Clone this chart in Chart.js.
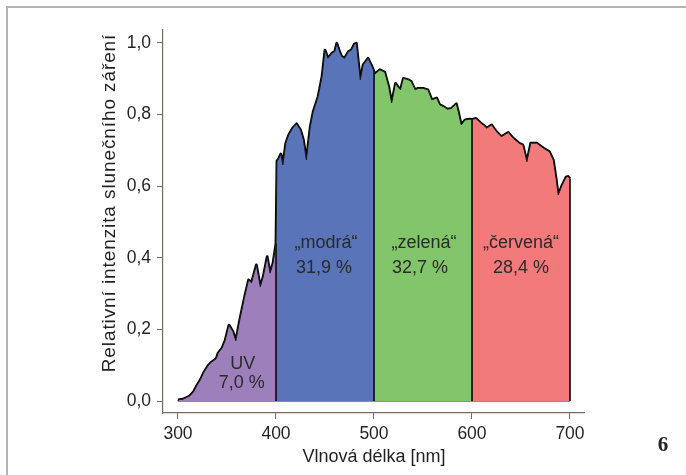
<!DOCTYPE html>
<html><head><meta charset="utf-8">
<script src="https://cdn.jsdelivr.net/npm/chart.js@4.4.1/dist/chart.umd.min.js"></script>
<style>
html,body{margin:0;padding:0;background:#fff;}
#wrap{position:relative;width:686px;height:475px;overflow:hidden;}
#frame{position:absolute;left:6px;top:6px;width:690px;height:480px;border-top:2px solid #b4b4b4;border-left:2px solid #b4b4b4;box-sizing:border-box;}
#fig{position:absolute;left:650px;top:431px;width:26px;text-align:center;font:bold 21px "Liberation Serif","DejaVu Serif",serif;color:#222;line-height:26px;}
canvas{position:absolute;left:0;top:0;}
</style></head>
<body><div id="wrap"><div id="frame"></div><canvas id="c" width="686" height="475"></canvas><div id="fig">6</div></div>
<script>
// wavelength [nm]
const wavelengths = [300,305,312,316,319,323,326,331,334,336,339,341,345,348,352,356,359,363,368,372,375,380,384,387,391,394,397,400,
 401,403,405,407,410,413,417,421,423,425,428,431,435,438,443,447,450,453,457,460,462,465,467,470,474,477,480,482,486,489,494,498,500,
 501,506,511,515,518,522,525,527,530,535,538,542,545,550,555,559,564,567,571,575,579,584,586,589,593,598,600,
 604,609,612,615,620,625,630,637,642,648,652,656,660,666,673,679,683,686,688,692,696,698,700];
// relative intensity
const intensity = [0.003,0.005,0.014,0.026,0.042,0.06,0.078,0.1,0.108,0.112,0.118,0.134,0.148,0.168,0.212,0.194,0.168,0.226,0.291,0.338,0.33,0.38,0.319,0.347,0.403,0.357,0.385,0.44,
 0.67,0.678,0.69,0.659,0.72,0.743,0.762,0.774,0.765,0.757,0.729,0.673,0.766,0.808,0.85,0.906,0.98,0.957,0.971,0.976,0.999,0.975,0.962,0.957,0.976,0.98,0.997,0.999,0.897,0.939,0.957,0.934,0.92,
 0.913,0.925,0.918,0.878,0.832,0.887,0.875,0.869,0.901,0.897,0.892,0.869,0.873,0.873,0.869,0.841,0.846,0.827,0.822,0.815,0.817,0.83,0.808,0.771,0.785,0.787,0.786,
 0.789,0.776,0.77,0.762,0.771,0.752,0.738,0.75,0.734,0.72,0.715,0.668,0.72,0.72,0.706,0.696,0.673,0.617,0.575,0.603,0.625,0.627,0.62];
// spectral bands
const bandStart = [300,400,500,600];
const bandEnd   = [400,500,600,700];
const bandColors = ['#9d80bb','#5a74b9','#83c56b','#f27a7b'];
// band labels
const labelLines = [['UV','7,0 %'],['\u201Emodr\u00E1\u201C','31,9 %'],['\u201Ezelen\u00E1\u201C','32,7 %'],['\u201E\u010Derven\u00E1\u201C','28,4 %']];
const labelX = [[366,365],[451,449],[551,547],[650,650]];
const labelY = [[0.103,0.05],[0.441,0.372],[0.441,0.372],[0.441,0.372]];
// ticks
const xTicks = [300,400,500,600,700];
const yTicks = [0,0.2,0.4,0.6,0.8,1.0];
const xTitle = 'Vlnov\u00E1 d\u00E9lka [nm]';
const yTitle = 'Relativn\u00ED intenzita slune\u010Dn\u00EDho z\u00E1\u0159en\u00ED';

const axisColor = '#7a6a62';
const textColor = '#231f20';
const FONT = '"Liberation Sans", Arial, sans-serif';

const pts = wavelengths.map((w,i)=>({x:w,y:intensity[i]}));
const datasets = [];
bandStart.forEach((a,k)=>{
  const b = bandEnd[k];
  const d = [{x:a,y:0}].concat(pts.filter(p=>p.x>=a && p.x<=b)).concat([{x:b,y:0}]);
  datasets.push({data:d, backgroundColor:bandColors[k], borderColor:'#1a1a1a', borderWidth:1, fill:'origin', pointRadius:0, tension:0});
});
datasets.push({data:[{x:300,y:0},{x:700,y:0}], borderColor:'#1a1a1a', borderWidth:1.2, fill:false, pointRadius:0});
datasets.push({data:pts, borderColor:'#000', borderWidth:2.8, fill:false, pointRadius:0, tension:0, borderJoinStyle:'round'});

const textPlugin = {
  id:'texts',
  afterDatasetsDraw(chart){
    const ctx = chart.ctx, xs = chart.scales.x, ys = chart.scales.y;
    ctx.save();
    ctx.fillStyle = '#2a2a2a';
    ctx.font = '18px ' + FONT;
    ctx.textAlign = 'center'; ctx.textBaseline = 'middle';
    labelLines.forEach((lines,k)=>{
      lines.forEach((t,j)=>{
        ctx.fillText(t, xs.getPixelForValue(labelX[k][j]), ys.getPixelForValue(labelY[k][j]));
      });
    });
    ctx.restore();
  },
  afterDraw(chart){
    const ctx = chart.ctx;
    ctx.save();
    ctx.fillStyle = textColor;
    ctx.font = '18px ' + FONT;
    ctx.textAlign = 'center'; ctx.textBaseline = 'middle';
    ctx.fillText(xTitle, 374, 457);
    ctx.translate(110, 203);
    ctx.rotate(-Math.PI/2);
    ctx.font = '19px ' + FONT;
    try { ctx.letterSpacing = '0.9px'; } catch(e) {}
    ctx.fillText(yTitle, 0, 0);
    ctx.restore();
  }
};

new Chart(document.getElementById('c'), {
  type:'line',
  data:{datasets},
  options:{
    responsive:false, animation:false,
    layout:{padding:{left:0,right:102,top:30,bottom:0}},
    plugins:{legend:{display:false}, tooltip:{enabled:false}, title:{display:false}},
    scales:{
      x:{type:'linear', min:284.7, max:714.3,
        afterBuildTicks(s){ s.ticks = xTicks.map(v=>({value:v})); },
        afterFit(s){ s.height = 62; },
        grid:{display:true, drawOnChartArea:false, drawTicks:true, tickLength:6, color:axisColor, lineWidth:1},
        border:{display:true, color:axisColor, width:1.2},
        ticks:{font:{size:17.5, family:FONT}, color:textColor, padding:5, maxRotation:0, callback:v=>String(v)}
      },
      y:{type:'linear', min:-0.0335, max:1.036,
        afterBuildTicks(s){ s.ticks = yTicks.map(v=>({value:v})); },
        afterFit(s){ s.width = 163; },
        grid:{display:true, drawOnChartArea:false, drawTicks:true, tickLength:6, color:axisColor, lineWidth:1},
        border:{display:true, color:axisColor, width:1.2},
        ticks:{font:{size:17.5, family:FONT}, color:textColor, padding:6, callback:v=>v.toFixed(1).replace('.',',')}
      }
    }
  },
  plugins:[textPlugin]
});
</script></body></html>
